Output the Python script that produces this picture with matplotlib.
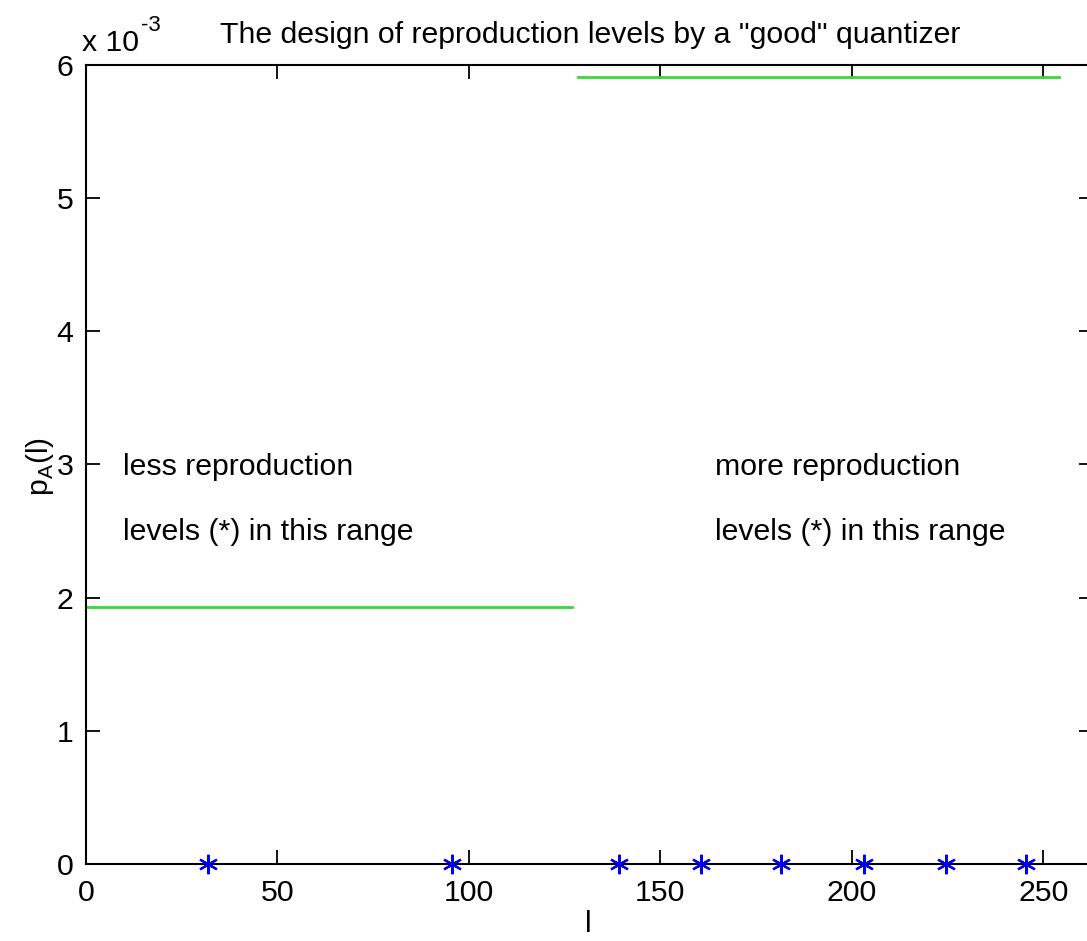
import matplotlib
matplotlib.use("Agg")
import matplotlib.pyplot as plt

# data
seg_low_x = [0, 127]
seg_low_y = [1.931e-3, 1.931e-3]
seg_high_x = [128.5, 254]
seg_high_y = [5.913e-3, 5.913e-3]
levels = [31.8, 95.6, 139.3, 160.7, 181.6, 203.1, 224.7, 245.6]
levels_y = [0, 0, 0, 0, 0, 0, 0, 0]
xticks = [0, 50, 100, 150, 200, 250]
yticks = [0, 1e-3, 2e-3, 3e-3, 4e-3, 5e-3, 6e-3]
ytick_labels = ["0", "1", "2", "3", "4", "5", "6"]

plt.rcParams['font.family'] = ['Liberation Sans', 'DejaVu Sans']
FS = 21.8

W, H = 1087, 941
fig = plt.figure(figsize=(W / 100, H / 100), dpi=100)
left, right, top, bottom = 86, 1093, 65, 864
ax = fig.add_axes([left / W, (H - bottom) / H, (right - left) / W, (bottom - top) / H])

ax.plot(seg_low_x, seg_low_y, color='#33dd33', lw=2)
ax.plot(seg_high_x, seg_high_y, color='#33dd33', lw=2)
ax.plot(levels, levels_y, linestyle='none', marker=(6, 2, 0), color='#0000ee',
        markersize=14, markeredgewidth=1.6, clip_on=False, zorder=5)

ax.set_xlim(0, 263)
ax.set_ylim(0, 6e-3)
ax.set_xticks(xticks)
ax.set_xticklabels([str(t) for t in xticks])
ax.set_yticks(yticks)
ax.set_yticklabels(ytick_labels)
ax.tick_params(direction='in', length=10, width=1.3, labelsize=FS, top=True, right=True,
               colors='black')
ax.tick_params(axis='x', pad=11)
ax.tick_params(axis='y', pad=9)
for s in ax.spines.values():
    s.set_linewidth(1.5)

ax.text(9.7, 2.92e-3, "less reproduction", fontsize=FS, va='baseline', ha='left')
ax.text(9.7, 2.43e-3, "levels (*) in this range", fontsize=FS, va='baseline', ha='left')
ax.text(164.4, 2.92e-3, "more reproduction", fontsize=FS, va='baseline', ha='left')
ax.text(164.4, 2.43e-3, "levels (*) in this range", fontsize=FS, va='baseline', ha='left')

fig.text(590 / W, 1 - 43 / H, 'The design of reproduction levels by a "good" quantizer',
         fontsize=FS, ha='center', va='baseline')
fig.text(82 / W, 1 - 51 / H, 'x 10', fontsize=FS, ha='left', va='baseline')
fig.text(141 / W, 1 - 31 / H, '-3', fontsize=16, ha='left', va='baseline')
fig.text(40 / W, 1 - 466 / H, r'p$_{\mathregular{A}}$(l)', fontsize=FS, rotation=90,
         ha='center', va='center')
fig.text(588 / W, 1 - 924 / H, 'l', fontsize=FS, ha='center', va='center')

fig.savefig("out.png", dpi=100)
